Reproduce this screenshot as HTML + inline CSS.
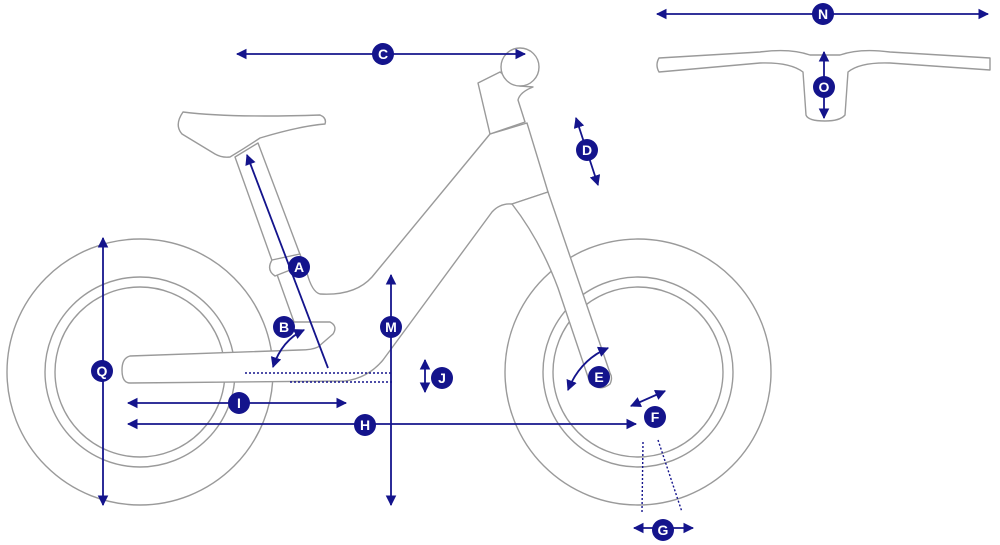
<!DOCTYPE html>
<html><head><style>
html,body{margin:0;padding:0;background:#fff;width:1000px;height:545px;overflow:hidden}
svg text{font-family:"Liberation Sans",sans-serif;font-weight:bold;font-size:14px;fill:#fff;text-anchor:middle}
</style></head><body>
<svg width="1000" height="545" viewBox="0 0 1000 545" xmlns="http://www.w3.org/2000/svg">
<defs>
<marker id="ah" viewBox="0 0 10 10" refX="9" refY="5" markerWidth="6" markerHeight="6" orient="auto-start-reverse">
<path d="M0,0 L10,5 L0,10 z" fill="#14148c"/></marker>
</defs>
<g fill="none" stroke="#9a9a9a" stroke-width="1.4">
<circle cx="140" cy="372" r="133"/>
<circle cx="140" cy="372" r="95"/>
<circle cx="140" cy="372" r="85"/>
<circle cx="638" cy="372" r="133"/>
<circle cx="638" cy="372" r="95"/>
<circle cx="638" cy="372" r="85"/>
</g>
<g fill="#fff" stroke="#9a9a9a" stroke-width="1.4" stroke-linejoin="round">
<path d="M294,322 L330,322 Q338,326 333,334 L318,347 Q312,350 300,350 L130,356 Q122,358 122,370 Q122,383 130,383 L345,381 Q368,378 383,360 L492,212 Q500,203 512,204 L548,192 L527,123 L490,134 L372,277 Q355,296 320,294 Q312,292 307,273 L258,143 L235,157 Z"/>
<path d="M512,204 Q540,240 558,288 L590,383 Q600,392 610,384 Q613,378 610,373 L548,192 Z"/>
<path d="M490,134 L478,83 L500,72 L520,86 L533,87 Q520,92 518,100 L525,122 L490,134 Z"/>
<circle cx="520" cy="67" r="19"/>
<path d="M183,112 Q230,118 320,115 Q327,118 325,124 Q300,126 260,138 Q245,148 230,157 Q222,158 215,154 L182,134 Q174,125 183,112 Z"/>
<path d="M272,260 L300,254 L303,265 L275,276 Q266,270 272,260 Z"/>
<path d="M659,58 L760,52 Q790,48 810,55 L840,55 Q860,48 890,52 L990,58 L990,70 L890,63 Q860,62 848,72 L845,115 Q840,121 825,121 Q808,121 806,115 L803,72 Q790,62 760,63 L659,72 Q655,65 659,58 Z"/>
</g>
<g stroke="#14148c" stroke-width="1.8" fill="none">
<line x1="237" y1="54" x2="525" y2="54" marker-start="url(#ah)" marker-end="url(#ah)"/>
<line x1="657" y1="14" x2="988" y2="14" marker-start="url(#ah)" marker-end="url(#ah)"/>
<line x1="824" y1="52" x2="824" y2="118" marker-start="url(#ah)" marker-end="url(#ah)"/>
<line x1="576" y1="118" x2="598" y2="185" marker-start="url(#ah)" marker-end="url(#ah)"/>
<line x1="247" y1="155" x2="328" y2="368" marker-start="url(#ah)"/>
<path d="M273,367 Q282,340 304,330" marker-start="url(#ah)" marker-end="url(#ah)"/>
<path d="M568,390 Q580,360 608,348" marker-start="url(#ah)" marker-end="url(#ah)"/>
<line x1="631" y1="406" x2="665" y2="391" marker-start="url(#ah)" marker-end="url(#ah)"/>
<line x1="128" y1="424" x2="636" y2="424" marker-start="url(#ah)" marker-end="url(#ah)"/>
<line x1="128" y1="403" x2="346" y2="403" marker-start="url(#ah)" marker-end="url(#ah)"/>
<line x1="391" y1="275" x2="391" y2="505" marker-start="url(#ah)" marker-end="url(#ah)"/>
<line x1="103" y1="238" x2="103" y2="505" marker-start="url(#ah)" marker-end="url(#ah)"/>
<line x1="425" y1="360" x2="425" y2="392" marker-start="url(#ah)" marker-end="url(#ah)"/>
<line x1="634" y1="528" x2="693" y2="528" marker-start="url(#ah)" marker-end="url(#ah)"/>
<g stroke-dasharray="2,2" stroke-width="1.4">
<line x1="245" y1="373" x2="393" y2="373"/>
<line x1="290" y1="382" x2="393" y2="382"/>
<line x1="643" y1="442" x2="642" y2="512"/>
<line x1="658" y1="440" x2="682" y2="512"/>
</g>
</g>
<g fill="#14148c">
<circle cx="383" cy="54" r="11"/><circle cx="823" cy="14" r="11"/><circle cx="824" cy="87" r="11"/>
<circle cx="587" cy="150" r="11"/><circle cx="299" cy="267" r="11"/><circle cx="284" cy="327" r="11"/>
<circle cx="391" cy="327" r="11"/><circle cx="102" cy="371" r="11"/><circle cx="442" cy="378" r="11"/>
<circle cx="599" cy="377" r="11"/><circle cx="655" cy="417" r="11"/><circle cx="239" cy="403" r="11"/>
<circle cx="365" cy="425" r="11"/><circle cx="663" cy="530" r="11"/>
</g>
<g>
<text x="383" y="59">C</text><text x="823" y="19">N</text><text x="824" y="92">O</text>
<text x="587" y="155">D</text><text x="299" y="272">A</text><text x="284" y="332">B</text>
<text x="391" y="332">M</text><text x="102" y="376">Q</text><text x="442" y="383">J</text>
<text x="599" y="382">E</text><text x="655" y="422">F</text><text x="239" y="408">I</text>
<text x="365" y="430">H</text><text x="663" y="535">G</text>
</g>
</svg>
</body></html>
